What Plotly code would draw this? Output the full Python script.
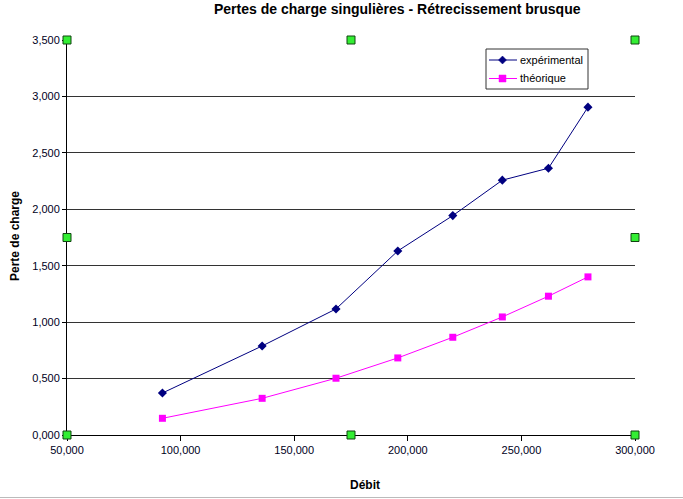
import plotly.graph_objects as go

# Data
debit = [92000, 135900, 168400, 195600, 219800, 241600, 261900, 279300]
experimental = [0.372, 0.789, 1.117, 1.631, 1.944, 2.258, 2.364, 2.905]
theorique = [0.148, 0.325, 0.503, 0.683, 0.866, 1.046, 1.230, 1.401]
series_names = ["expérimental", "théorique"]
series_colors = ["#000080", "#ff00ff"]

x_tickvals = [50000, 100000, 150000, 200000, 250000, 300000]
x_ticktext = ["50,000", "100,000", "150,000", "200,000", "250,000", "300,000"]
y_tickvals = [0, 0.5, 1.0, 1.5, 2.0, 2.5, 3.0, 3.5]
y_ticktext = ["0,000", "0,500", "1,000", "1,500", "2,000", "2,500", "3,000", "3,500"]

FONT = "Liberation Sans, Arial, sans-serif"

L, T, R, B = 67, 40, 48, 64
PW, PH = 568, 395


def px(x):
    return (x - L) / PW


def py(y):
    return (T + PH - y) / PH


fig = go.Figure()
fig.add_trace(go.Scatter(
    x=debit, y=experimental, name=series_names[0], mode="lines+markers",
    line=dict(color=series_colors[0], width=1),
    marker=dict(symbol="diamond", size=7, color=series_colors[0]),
))
fig.add_trace(go.Scatter(
    x=debit, y=theorique, name=series_names[1], mode="lines+markers",
    line=dict(color=series_colors[1], width=1),
    marker=dict(symbol="square", size=7, color=series_colors[1]),
))

fig.update_layout(
    width=683, height=499,
    margin=dict(l=L, r=R, t=T, b=B, pad=0),
    paper_bgcolor="white", plot_bgcolor="white",
    font=dict(family=FONT, size=11, color="black"),
    showlegend=False,
    xaxis=dict(
        range=[50000, 300000], tickvals=x_tickvals, ticktext=x_ticktext,
        showgrid=False, zeroline=False, showline=True, linecolor="black", linewidth=1,
        ticks="outside", ticklen=5, tickcolor="black",
        tickfont=dict(family=FONT, size=11, color="#000022"),
    ),
    yaxis=dict(
        range=[0, 3.5], tickvals=y_tickvals, ticktext=y_ticktext,
        showgrid=True, gridcolor="#333333", gridwidth=1,
        zeroline=False, showline=True, linecolor="black", linewidth=1,
        ticks="outside", ticklen=4, tickcolor="black",
        tickfont=dict(family=FONT, size=11, color="#000022"),
    ),
)

# Title and axis titles as annotations
fig.add_annotation(text="<b>Pertes de charge singulières - Rétrecissement brusque</b>",
                   xref="paper", yref="paper", x=px(398), y=py(9),
                   xanchor="center", yanchor="middle", showarrow=False,
                   font=dict(family=FONT, size=14, color="black"))
fig.add_annotation(text="<b>Débit</b>",
                   xref="paper", yref="paper", x=px(365), y=py(485),
                   xanchor="center", yanchor="middle", showarrow=False,
                   font=dict(family=FONT, size=12, color="black"))
fig.add_annotation(text="<b>Perte de charge</b>", textangle=-90,
                   xref="paper", yref="paper", x=px(15), y=py(236),
                   xanchor="center", yanchor="middle", showarrow=False,
                   font=dict(family=FONT, size=12, color="black"))

# Legend box (drawn manually to match the Excel legend)
fig.add_shape(type="rect", xref="paper", yref="paper",
              x0=px(486), x1=px(588), y0=py(89), y1=py(49),
              fillcolor="white", line=dict(color="#333333", width=1), layer="above")
entry_y = [60, 78.5]
marker_paths = ["M 0,4 L 4,0 L 0,-4 L -4,0 Z", "M -3.5,-3.5 L 3.5,-3.5 L 3.5,3.5 L -3.5,3.5 Z"]
for name, color, ey, path in zip(series_names, series_colors, entry_y, marker_paths):
    fig.add_shape(type="line", xref="paper", yref="paper",
                  x0=px(489), x1=px(517), y0=py(ey), y1=py(ey),
                  line=dict(color=color, width=1), layer="above")
    fig.add_shape(type="path", xref="paper", yref="paper",
                  xsizemode="pixel", ysizemode="pixel",
                  xanchor=px(502.5), yanchor=py(ey), path=path,
                  fillcolor=color, line=dict(color=color, width=0.5), layer="above")
    fig.add_annotation(text=name, xref="paper", yref="paper",
                       x=px(518), y=py(ey), xanchor="left", yanchor="middle",
                       showarrow=False, font=dict(family=FONT, size=11, color="black"))

# Selection handles (green squares) around the plot area
for hx in [0, 0.5, 1]:
    for hy in [0, 0.5, 1]:
        if hx == 0.5 and hy == 0.5:
            continue
        fig.add_shape(type="rect", xref="paper", yref="paper",
                      xsizemode="pixel", ysizemode="pixel",
                      xanchor=hx, yanchor=hy, x0=-4, x1=4, y0=-4, y1=4,
                      fillcolor="#33ee33", line=dict(color="#114411", width=1),
                      layer="above")

# Bottom window edge line
fig.add_shape(type="line", xref="paper", yref="paper",
              x0=px(0), x1=px(683), y0=py(497.5), y1=py(497.5),
              line=dict(color="#bbbbbb", width=1))

fig.write_html(
    "out.html",
    config={"displayModeBar": False},
    post_script="document.body.style.margin='0px';document.body.style.overflow='hidden';",
)
